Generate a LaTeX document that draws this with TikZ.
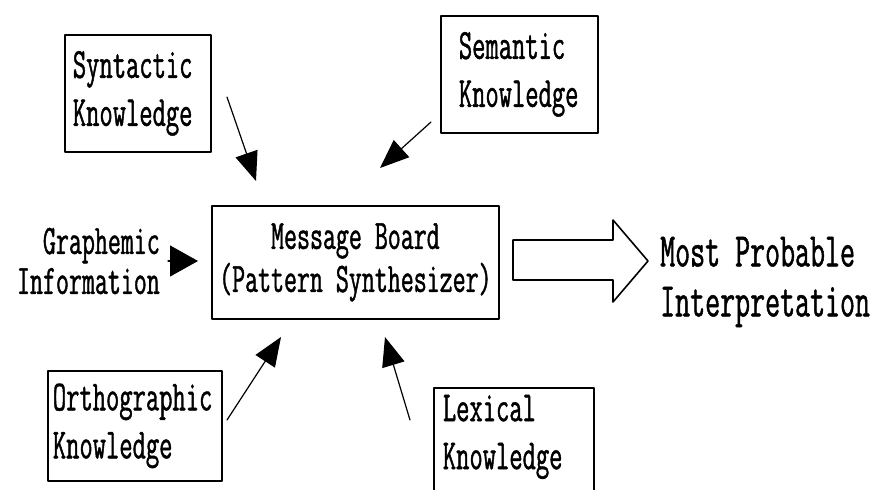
\documentclass[tikz,border=0pt]{standalone}
\usepackage{fontspec}
\newfontfamily\boardfont[FakeStretch=0.6,FakeBold=1]{Latin Modern Mono}
\usepackage{tikz}
\usetikzlibrary{arrows.meta}

\begin{document}
\begin{tikzpicture}[
		x=1pt,
		y=-1pt,
		>={Triangle[length=29pt,width=23pt]},
		line cap=round,
		line join=round,
		knowbox/.style={
			draw,
			line width=1.8pt,
			anchor=north west,
			inner ysep=0pt,
			align=left,
			font=\boardfont\fontsize{43}{48}\selectfont
		},
		plaintext/.style={
			inner sep=0pt,
			font=\boardfont\fontsize{42}{40}\selectfont
		},
		feed/.style={->, line width=1.2pt},
		fatarrow/.style={draw, line width=1.6pt, fill=white}
	]
	
	% rahmen
	\useasboundingbox (0,0) rectangle (881,490);
	\clip (0,0) rectangle (881,490);
	
	% wissensquellen
	\node[knowbox, text width=130pt, inner xsep=8pt, minimum height=117pt] (syn) at (64,34) {Syntactic\\Knowledge};
	\node[knowbox, text width=121pt, inner xsep=18pt, minimum height=117pt] (sem) at (440,15) {Semantic\\Knowledge};
	\node[knowbox, text width=164pt, inner xsep=5pt, minimum height=110pt] (ortho) at (47,370) {Orthographic\\Knowledge};
	\node[knowbox, text width=142pt, inner xsep=9pt, inner ysep=7pt] (lex) at (433,387) {Lexical\\Knowledge\rule[-40pt]{0pt}{40pt}};
	
	% mitte
	\node[knowbox, inner xsep=4pt, minimum width=287pt, minimum height=113pt, align=center,
		font=\boardfont\fontsize{42}{43}\selectfont] (msg) at (211,205) {Message Board\\(Pattern Synthesizer)};
	
	\node[plaintext, anchor=east, align=right] (graph) at (160,261) {Graphemic\\Information};
	\node[plaintext, anchor=west, align=left, font=\boardfont\fontsize{48.5}{50}\selectfont] (interp) at (660,282) {Most Probable\\Interpretation};
	
	% pfeilenden
	\coordinate (synTail) at (227,97);
	\coordinate (synTip) at (256,181);
	\coordinate (semTail) at (431,122);
	\coordinate (semTip) at (380,168);
	\coordinate (orthoTail) at (227,420);
	\coordinate (orthoTip) at (281,337);
	\coordinate (lexTail) at (410,420);
	\coordinate (lexTip) at (385,337);
	\coordinate (graphTail) at (168,261);
	\coordinate (graphTip) at (198,261);
	\coordinate (outTail) at (513,260);
	
	% pfeile
	\draw[feed] (synTail) -- (synTip);
	\draw[feed] (semTail) -- (semTip);
	\draw[feed] (orthoTail) -- (orthoTip);
	\draw[feed] (lexTail) -- (lexTip);
	\draw[feed, -{Triangle[length=28pt,width=31pt]}] (graphTail) -- (graphTip);
	
	% ausgabe
	\draw[fatarrow] (outTail) ++(0,-20) -- ++(100,0) -- ++(0,-20) -- ++(35,41)
		-- ++(-35,41) -- ++(0,-22) -- ++(-100,0) -- cycle;
	
\end{tikzpicture}
\end{document}
